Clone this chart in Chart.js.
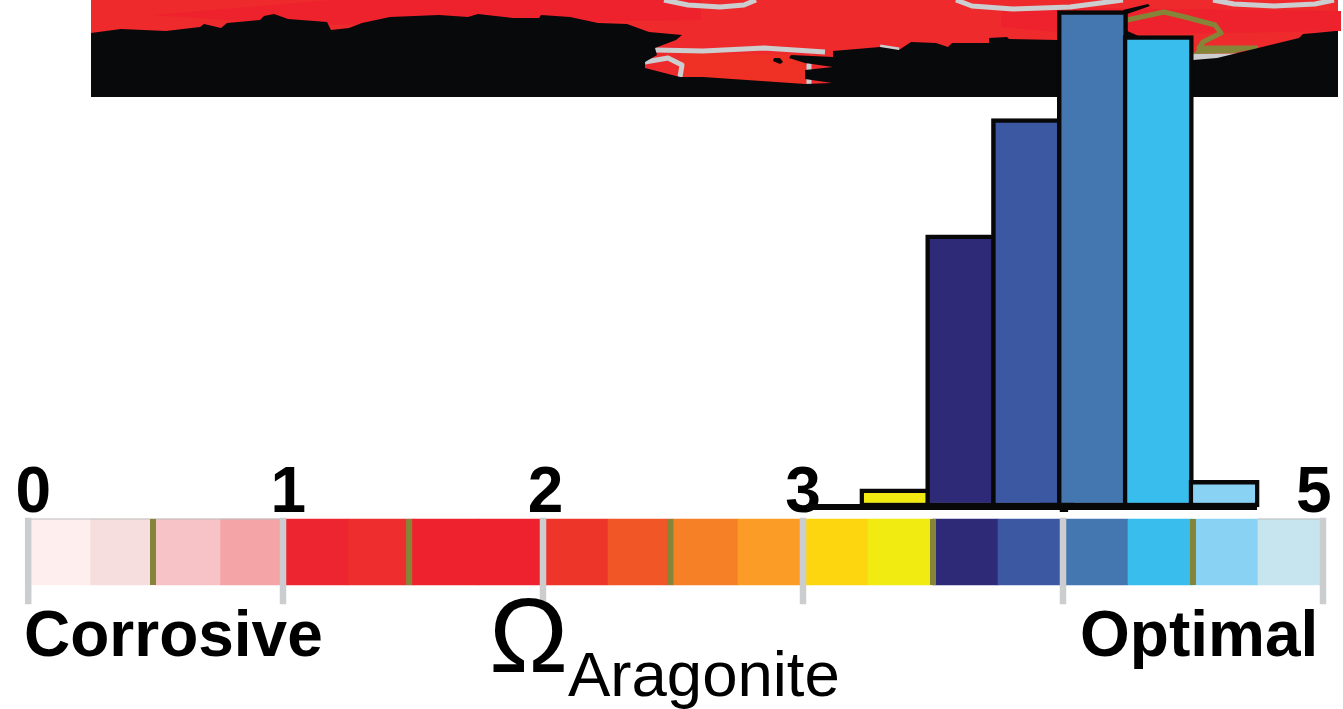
<!DOCTYPE html>
<html>
<head>
<meta charset="utf-8">
<style>
  html, body { margin: 0; padding: 0; background: #fff; overflow: hidden; }
  #wrap { width: 1343px; height: 709px; }
</style>
<script src="https://cdn.jsdelivr.net/npm/chart.js@4/dist/chart.umd.min.js"></script>
</head>
<body>
<div id="wrap"><canvas id="omegaChart" width="1343" height="709"></canvas></div>
<script>
// colour bar classes, omega units
const cellEdges = [0.01, 0.26, 0.51, 0.76, 1.0, 1.25, 1.5, 1.75, 2.0, 2.25, 2.5, 2.75, 3.0, 3.25, 3.5, 3.75, 4.0, 4.25, 4.5, 4.75, 5.0];
const cellColors = ['#FEEEEE', '#F6DEDE', '#F8C3C6', '#F4A3A6', '#ED2530', '#EE2D2E', '#ED222E', '#ED222E', '#EE352A', '#F15627',
  '#F58025', '#FA9C25', '#FDD610', '#F1EB12', '#2E2A77', '#3C58A3', '#4476AF', '#38BDEC', '#8AD2F3', '#C7E5EF'];

// tick marks on the bar
const tickValues = [0.02, 1.0, 2.0, 3.0, 4.0, 5.0];
const contourValues = [0.5, 1.485, 2.49, 3.5, 4.5];
const barEdgeLeft = [0.01, 1.0];
const barEdgeRight = [4.75, 5.0];

// tick labels
const tickLabels = ['0', '1', '2', '3', '4', '5'];
const tickLabelAt = [0.04, 1.02, 2.01, 3.0, 3.975, 4.965];

// histogram, percent of area per class
const histBins = [3.375, 3.625, 3.875, 4.125, 4.375, 4.625];
const histValues = [1.1, 16.4, 23.4, 29.9, 28.4, 1.6];
const histColors = ['#F1EB12', '#2E2A77', '#3C58A3', '#4476AF', '#38BDEC', '#8AD2F3'];
const histBaseline = [3.04, 4.75];

// map outlines, map units
const mapFrame = [[0, 0], [124.7, 0], [124.7, 9.7], [0, 9.7]];
const coast = [[0, 6.4], [3, 6.8], [7.5, 6.6], [10.9, 7], [11.3, 7.3], [13, 6.9], [13.6, 7.4], [16.9, 7.7], [17.3, 8.1], [18.3, 8.3],
  [19.7, 7.8], [23.6, 7.5], [24, 6.7], [25.8, 6.9], [27.1, 7.4], [29.9, 8], [34.8, 8.2], [37.7, 8], [38.7, 8.3], [42.2, 7.9],
  [44.8, 7.9], [45, 8.2], [47.9, 8], [50.7, 7.4], [53.6, 7.3], [55.8, 6.5], [59.1, 6.2], [58.5, 5.7], [56.4, 4.9], [56.6, 4.2],
  [55.4, 3.5], [55.4, 2.9], [58.9, 2], [61.2, 2], [71.4, 1.3], [74.1, 1.4], [71.4, 1.8], [71.4, 2.7], [74.2, 3], [71.4, 3.4],
  [69.8, 3.9], [70, 4.2], [74.2, 4], [74.2, 4.6], [78.9, 5], [80.8, 4.7], [82, 5.5], [84.5, 5.4], [85.7, 5], [86.1, 5.4],
  [89.8, 5.4], [89.8, 5.9], [91.6, 6], [91.8, 5.8], [96.7, 5.7], [103.4, 6.7], [110.2, 3.7], [112.6, 3.9], [116.7, 4.9], [120.8, 5.9],
  [121.2, 6.3], [122.4, 6.4], [124.5, 6.6], [124.7, 6.6], [124.7, 0], [0, 0]];
const islet = [[103.2, 8.7], [105.7, 9.3], [105.9, 9.1], [103.6, 8.3]];
const rock = [[68.2, 3.6], [68.9, 3.3], [69.2, 3.5], [68.9, 3.9], [68.3, 3.9]];
const darkRed = [[6.2, 8.2], [24, 9.7], [61, 9.7], [61, 7.7], [21, 7.2]];
const darkRed2 = [[91, 9], [125, 8.6], [125, 6.6], [100, 6.2], [91, 7]];
const orangeRed = [[59, 4.5], [70, 4.2], [71.4, 3.4], [71.8, 1.3], [59, 2]];
const contourA = [[57.3, 9.7], [59.7, 9.2], [62.9, 9], [65.3, 9.2], [66.5, 9.7]];
const contourB = [[86.5, 9.7], [88.1, 9.1], [92.2, 8.8], [97.9, 9], [103.2, 9.7]];
const contourC = [[112.2, 9.7], [114.3, 9.3], [118.3, 9.1], [122.4, 9.3], [124.3, 9.7]];
const contourD = [[56.4, 4.7], [61.2, 4.6], [67.3, 4.9], [73.4, 4.5]];
const contourE = [[55.4, 3.5], [57.7, 3.9], [59.1, 3.2], [58.9, 2]];
const contourF = [[71.8, 3.2], [71.8, 1.3]];
const contourG = [[78.9, 5], [80.8, 4.7]];
const contourH = [[110.2, 4], [115, 4]];
const oliveLine = [[103.6, 7.7], [107.3, 8.5], [109.4, 8], [112.4, 7.2], [113, 6.4], [111.2, 5.5], [110.8, 4.9], [116.7, 4.9]];
const oliveWedge = [[110.8, 4.9], [116.7, 5], [114.4, 4.4], [110.2, 4.3]];

const pts = a => a.map(p => ({ x: p[0], y: p[1] }));

// helpers so the dataset list stays readable
const mapFill = (a, color, order) => ({
  type: 'line', data: pts(a), xAxisID: 'xMap', yAxisID: 'yMap', order: order,
  backgroundColor: color, borderColor: color, borderWidth: 0, fill: 'shape', pointRadius: 0, tension: 0
});
const mapLine = (a, color, width, order) => ({
  type: 'line', data: pts(a), xAxisID: 'xMap', yAxisID: 'yMap', order: order,
  borderColor: color, borderWidth: width, fill: false, pointRadius: 0, tension: 0, borderJoinStyle: 'round'
});
const tickSegments = (vals, lo, hi) => vals.flatMap(v => [{ x: v, y: lo }, { x: v, y: hi }, { x: null, y: null }]);

const axis = (min, max) => ({ type: 'linear', display: false, min: min, max: max, offset: false });

const textPlugin = {
  id: 'textPlugin',
  // digits go under the bars, the 4 is hidden behind them
  beforeDatasetsDraw(chart) {
    const c = chart.ctx;
    c.save();
    c.fillStyle = '#000';
    c.textBaseline = 'alphabetic';
    c.textAlign = 'center';
    c.font = 'bold 64px "Liberation Sans"';
    tickLabels.forEach((t, i) => c.fillText(t, chart.scales.x.getPixelForValue(tickLabelAt[i]), 512));
    c.restore();
  },
  afterDatasetsDraw(chart) {
    const c = chart.ctx;
    c.save();
    c.fillStyle = '#000';
    c.textBaseline = 'alphabetic';
    c.textAlign = 'left';
    c.font = 'bold 64px "Liberation Sans"';
    c.fillText('Corrosive', 24, 656);
    c.fillText('Optimal', 1080, 656);
    c.font = '106px "Liberation Sans"';
    c.fillText('Ω', 489, 672);
    c.font = '63.5px "Liberation Sans"';
    c.fillText('Aragonite', 568, 696);
    c.restore();
  }
};

new Chart(document.getElementById('omegaChart'), {
  type: 'bar',
  data: {
    datasets: [
      mapFill(mapFrame, '#EE2A2D', 100),
      mapFill(darkRed, '#ED222C', 99),
      mapFill(darkRed2, '#ED222C', 99),
      mapFill(orangeRed, '#EE3124', 98),
      mapLine(contourA, '#CCCDCF', 5, 97),
      mapLine(contourB, '#CCCDCF', 5, 97),
      mapLine(contourC, '#CCCDCF', 5, 97),
      mapLine(contourD, '#CCCDCF', 5, 97),
      mapLine(contourE, '#CCCDCF', 5, 97),
      mapLine(contourF, '#CCCDCF', 5, 97),
      mapLine(contourG, '#CCCDCF', 5, 97),
      mapLine(contourH, '#CCCDCF', 7, 97),
      mapLine(oliveLine, '#85853A', 5, 96),
      mapFill(oliveWedge, '#85853A', 96),
      mapFill(coast, '#08090B', 90),
      mapFill(islet, '#08090B', 90),
      mapFill(rock, '#08090B', 90),
      {
        // colour bar
        type: 'bar', indexAxis: 'y', xAxisID: 'x', yAxisID: 'yBar', order: 50, grouped: false,
        data: cellColors.map((c, i) => ({ x: [cellEdges[i], cellEdges[i + 1]], y: 0.5 })),
        backgroundColor: cellColors, barThickness: 66, borderWidth: 0
      },
      {
        type: 'line', xAxisID: 'x', yAxisID: 'yBar', order: 45,
        data: [...barEdgeLeft.map(v => ({ x: v, y: 1 })), { x: null, y: null }, ...barEdgeRight.map(v => ({ x: v, y: 1 }))],
        borderColor: '#BDBDBD', borderWidth: 1, pointRadius: 0, fill: false, spanGaps: false
      },
      {
        type: 'line', xAxisID: 'x', yAxisID: 'yBar', order: 40,
        data: tickSegments(contourValues, 0, 1),
        borderColor: '#85853A', borderWidth: 6, pointRadius: 0, fill: false, spanGaps: false
      },
      {
        type: 'line', xAxisID: 'x', yAxisID: 'yBar', order: 39,
        data: tickSegments(tickValues, -0.29, 1.02),
        borderColor: '#CCCDCF', borderWidth: 6.5, pointRadius: 0, fill: false, spanGaps: false
      },
      {
        // histogram
        type: 'bar', xAxisID: 'xHist', yAxisID: 'y', order: 10, grouped: false,
        data: histBins.map((b, i) => ({ x: b, y: histValues[i] })),
        backgroundColor: histColors, borderColor: '#080808', borderWidth: 4.5, borderSkipped: false,
        barThickness: 70.3
      },
      {
        type: 'line', xAxisID: 'xHist', yAxisID: 'y', order: 5,
        data: histBaseline.map(v => ({ x: v, y: 0 })),
        borderColor: '#080808', borderWidth: 6, pointRadius: 0, fill: false
      }
    ]
  },
  plugins: [textPlugin],
  options: {
    responsive: false,
    animation: false,
    layout: { padding: 0 },
    plugins: { legend: { display: false }, tooltip: { enabled: false }, title: { display: false } },
    scales: {
      x: axis(-23 / 260, 1320 / 260),
      xHist: axis(-6.3 / 263.3, 1336.7 / 263.3),
      xMap: axis(-9.1, 125.2),
      y: axis(-202 / 16.6, 507 / 16.6),
      yBar: axis(-124 / 66, 585 / 66),
      yMap: axis(-61.2, 9.7)
    }
  }
});
</script>
</body>
</html>
